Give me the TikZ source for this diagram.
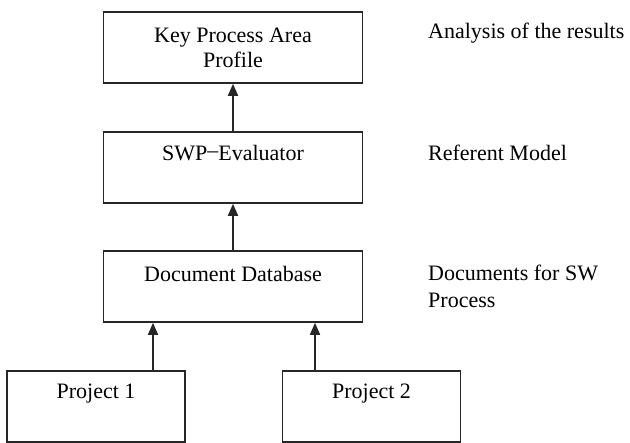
\documentclass[tikz,border=0pt]{standalone}
\usepackage{fontspec}
\setmainfont{Liberation Serif}
\usetikzlibrary{arrows.meta}
\begin{document}
\begin{tikzpicture}[x=1pt,y=-1pt,
  box/.style={draw=black!85,line width=1.6pt,rectangle,inner sep=0pt},
  txt/.style={font=\fontsize{22}{25}\selectfont,inner sep=0pt,align=center},
  note/.style={font=\fontsize{22}{27}\selectfont,inner sep=0pt,align=left,anchor=west},
  link/.style={line width=1.6pt,draw=black!85,-{Triangle[length=12pt,width=10pt]}}]
\useasboundingbox (0,0) rectangle (630,443);

% boxes
\node[box,minimum width=259pt,minimum height=71pt] (kpa) at (233,47.5) {};
\node[box,minimum width=259pt,minimum height=71pt] (swp) at (233,167.5) {};
\node[box,minimum width=259pt,minimum height=71pt] (ddb) at (233,286.5) {};
\node[box,minimum width=178pt,minimum height=71pt] (p1) at (96,406.5) {};
\node[box,minimum width=178pt,minimum height=71pt] (p2) at (371.5,406.5) {};

% box texts
\node[txt] (kpat) at (233,47.5) {Key Process Area\\Profile};
\node[txt] (swpt) at (233,153) {SWP{\raisebox{0.3ex}{--}}Evaluator};
\node[txt] (ddbt) at (233,274) {Document Database};
\node[txt] (p1t) at (96,394) {Project 1};
\node[txt] (p2t) at (371.5,394) {Project 2};

% side notes
\node[note] (n1) at (428,33) {Analysis of the results};
\node[note] (n2) at (428,153) {Referent Model};
\node[note] (n3) at (428,286.5) {Documents for SW\\Process};

% connectors
\draw[link] (swp.north) -- (kpa.south);
\draw[link] (ddb.north) -- (swp.south);
\draw[link] (p1.north -| 153,0) -- (ddb.south -| 153,0);
\draw[link] (p2.north -| 315,0) -- (ddb.south -| 315,0);
\end{tikzpicture}
\end{document}
